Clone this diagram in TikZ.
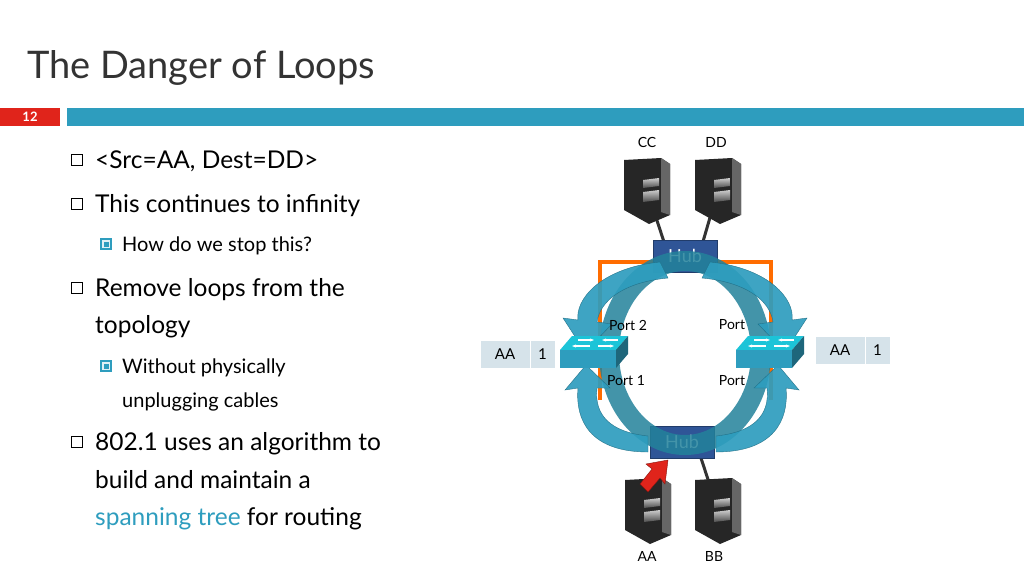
\documentclass[tikz,border=0pt]{standalone}
\usepackage{fontspec}
\setmainfont{Lato}
\usetikzlibrary{arrows.meta,shapes.geometric}
\definecolor{teal1}{HTML}{2E9DBE}
\definecolor{ringc}{HTML}{23829B}
\definecolor{arrc}{HTML}{2E9DBE}
\definecolor{hubc}{HTML}{2F5597}
\definecolor{redc}{HTML}{E0241B}
\definecolor{tabc}{HTML}{D6E3EA}
\definecolor{txt}{HTML}{333333}
\begin{document}
\begin{tikzpicture}[x=1pt,y=-1pt,
  body/.style={font=\fontsize{24.5}{27}\selectfont,text=black,anchor=base west,inner sep=0},
  sub/.style={font=\fontsize{20}{23}\selectfont,text=black,anchor=base west,inner sep=0},
  small/.style={font=\fontsize{14}{16}\selectfont,text=black,inner sep=0},
  hub/.style={fill=hubc,draw=hubc!70!black,text=white,font=\fontsize{18}{19}\selectfont,minimum width=64pt,minimum height=32pt,inner sep=0},
  cell/.style={fill=tabc,draw=white,line width=1pt,font=\fontsize{15}{17}\selectfont,minimum height=28pt,inner sep=0},
  bigarr/.style={draw=arrc!70!black,fill=arrc,opacity=0.92},
]
\useasboundingbox (0,0) rectangle (1024,576);
\fill[white] (0,0) rectangle (1024,576);
% title
\node[anchor=base west,inner sep=0,font=\fontsize{38}{40}\selectfont,text=txt] (title) at (27,78) {The Danger of Loops};
\fill[redc] (0,108) rectangle (60,126);
\node[text=white,font=\bfseries\fontsize{13}{14}\selectfont] (num) at (30,117) {12};
\fill[teal1] (67,108) rectangle (1024,126);
% bullets
\foreach \y in {160,204,288,442}{\draw[line width=0.8pt] (71,\y-6) rectangle (82,\y+5);}
\foreach \y in {244,366}{\draw[teal1,line width=1.2pt,fill=teal1!15] (101,\y-5) rectangle (111,\y+5); \fill[teal1] (103.5,\y-2.5) rectangle (108.5,\y+2.5);}
\node[body] (b1) at (95,168) {<Src=AA, Dest=DD>};
\node[body] (b2) at (95,212) {This continues to infinity};
\node[sub] (s1) at (122,251) {How do we stop this?};
\node[body] (b3) at (95,296) {Remove loops from the};
\node[body] (b3b) at (95,333) {topology};
\node[sub] (s2) at (122,373) {Without physically};
\node[sub] (s2b) at (122,407) {unplugging cables};
\node[body] (b4) at (95,450) {802.1 uses an algorithm to};
\node[body] (b4b) at (95,488) {build and maintain a};
\node[body] (b4c) at (95,525) {\textcolor{teal1}{spanning tree} for routing};
% orange loop
\draw[orange!85!red,line width=3.5pt] (600,400) -- (600,262) -- (771,262) -- (771,400);
% computers
\foreach \n/\x/\y in {cc/647/190,dd/718/190,aa/648/510,bb/718/510}{
  \coordinate (\n) at (\x,\y);
}
\draw[line width=3pt,black!80] (cc) -- (665,245);
\draw[line width=3pt,black!80] (dd) -- (702,245);
\draw[line width=3pt,black!80] (bb) -- (700,455);
\foreach \n in {cc,dd,aa,bb}{
 \begin{scope}[shift={(\n)}]
  \fill[black!85] (-23,-30) -- (14,-32) -- (23,-26) -- (23,25) -- (2,34) -- (-23,20) -- cycle;
  \fill[black!60] (14,-32) -- (23,-26) -- (23,25) -- (14,22) -- cycle;
  \shade[top color=gray!40,bottom color=black!70] (-4,-10) -- (12,-12) -- (12,-4) -- (-4,-2) -- cycle;
  \shade[top color=gray!40,bottom color=black!70] (-4,2) -- (12,0) -- (12,10) -- (-4,12) -- cycle;
 \end{scope}}
\node[small] (lcc) at (647,142) {CC};
\node[small] (ldd) at (716,142) {DD};
\node[small] (laa) at (647,556) {AA};
\node[small] (lbb) at (714,556) {BB};
% hubs
\node[hub] (hubt) at (685,256) {Hub};
\node[hub] (hubb) at (682,442) {Hub};
% ring
\draw[ringc,line width=20pt,opacity=0.85] (685,353) ellipse (76 and 92);
% curved arrows top
\fill[bigarr] (660,262) .. controls (600,268) and (575,300) .. (578,320) -- (563,318) -- (585,352) -- (612,324) -- (597,322) .. controls (600,300) and (625,282) .. (668,278) -- cycle;
\fill[bigarr] (710,262) .. controls (770,268) and (795,300) .. (792,320) -- (807,318) -- (785,352) -- (758,324) -- (773,322) .. controls (770,300) and (745,282) .. (702,278) -- cycle;
% curved arrows bottom
\fill[bigarr] (648,452) .. controls (590,452) and (575,420) .. (578,388) -- (565,390) -- (586,365) -- (610,388) -- (597,388) .. controls (594,415) and (610,432) .. (648,436) -- cycle;
\fill[bigarr] (716,452) .. controls (774,452) and (789,420) .. (786,388) -- (799,390) -- (778,365) -- (754,388) -- (767,388) .. controls (770,415) and (754,432) .. (716,436) -- cycle;
% switches
\foreach \n/\x in {swl/594,swr/770}{
 \begin{scope}[shift={(\x,352)}]
  \fill[teal1!60!cyan] (-34,-2) -- (22,-2) -- (34,-16) -- (-22,-16)-- cycle;
  \fill[teal1] (-34,-2) rectangle (22,16);
  \fill[teal1!65!black] (22,-2) -- (34,-16) -- (34,2) -- (22,16) -- cycle;
  \draw[white,line width=1.5pt,-{Stealth[length=4pt]}] (-16,-12) -- (0,-12);
  \draw[white,line width=1.5pt,-{Stealth[length=4pt]}] (24,-12) -- (8,-12);
  \draw[white,line width=1.5pt,-{Stealth[length=4pt]}] (-4,-6) -- (-22,-6);
  \draw[white,line width=1.5pt,-{Stealth[length=4pt]}] (4,-6) -- (20,-6);
 \end{scope}
 \coordinate (\n) at (\x,352);}
% port labels
\node[small] (p2) at (628,325) {Port 2};
\node[small] (p1) at (626,381) {Port 1};
\node[small] (pr1) at (732,325) {Port};
\node[small] (pr2) at (732,381) {Port};
% tables
\node[cell,minimum width=50pt] (tla) at (505,354) {AA};
\node[cell,minimum width=25pt] (tl1) at (542.5,354) {1};
\node[cell,minimum width=50pt] (tra) at (840,350) {AA};
\node[cell,minimum width=25pt] (tr1) at (877.5,350) {1};
% red arrow
\fill[redc,draw=redc!60!black] (648,492) -- (660,478) -- (665,484) -- (668,460) -- (646,464) -- (652,469) -- (640,484) -- cycle;
\end{tikzpicture}
\end{document}
